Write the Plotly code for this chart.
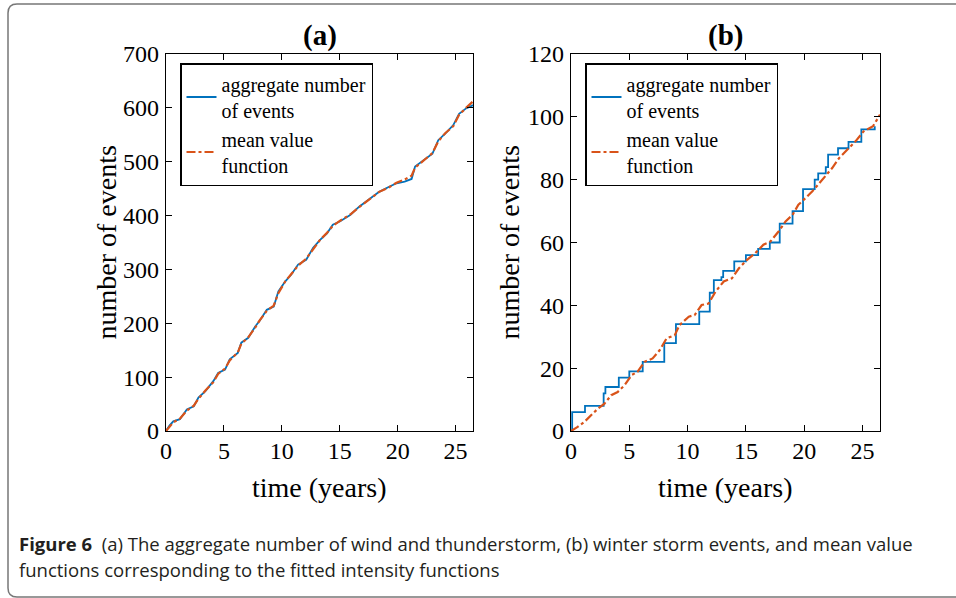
import plotly.graph_objects as go

# ---------------- data ----------------
# panel (a): wind and thunderstorm
time_a = [0, 0.3, 0.63, 1.2, 1.8, 2.4, 2.8, 3.4, 4.1, 4.5, 5.1, 5.5, 6.2, 6.5, 7.1, 7.7, 8.1, 8.7,
          9.3, 9.7, 10.3, 10.8, 11.4, 12.1, 12.7, 13.3, 13.9, 14.4, 15.0, 15.9, 16.7, 17.6, 18.4,
          19.3, 19.9, 20.6, 21.2, 21.5, 22.1, 23.0, 23.5, 24.1, 24.8, 25.3, 25.9, 26.5]
aggregate_a = [0, 10, 18, 22, 40, 46, 62, 74, 93, 108, 114, 133, 145, 164, 173, 194, 205, 225,
               231, 259, 278, 290, 309, 318, 340, 355, 367, 383, 389, 401, 417, 432, 444,
               454, 460, 463, 468, 491, 500, 515, 540, 552, 568, 589, 599, 605]
mean_a = [0, 8, 16, 23, 38, 47, 60, 75, 91, 106, 116, 131, 146, 162, 174, 192, 206, 223,
          233, 256, 278, 291, 307, 320, 338, 355, 368, 381, 390, 402, 416, 431, 444,
          453, 461, 467, 474, 489, 500, 516, 538, 553, 566, 587, 600, 612]

# panel (b): winter storm
step_time_b = [0, 0.1, 1.2, 2.8, 2.95, 4.1, 5.0, 6.15, 8.0, 9.0, 11.0, 11.9, 12.25, 12.9, 13.05,
               14.0, 15.0, 16.05, 17.05, 17.9, 19.0, 19.9, 20.9, 21.2, 21.85, 22.05, 22.9,
               23.8, 24.9, 26.05]
aggregate_b = [0, 6, 8, 12, 14, 17, 19, 22, 28, 34, 38, 44, 48, 49, 51,
               54, 56, 58, 60, 66, 70, 77, 80, 82, 84, 88, 90,
               92, 96, 97]
time_b = [0, 0.57, 1.15, 1.7, 2.3, 2.87, 3.45, 4.0, 4.6, 5.2, 5.7, 6.3, 7.0, 7.6, 8.2, 8.9, 9.3,
          10.1, 10.6, 11.2, 11.8, 12.4, 13.1, 13.8, 14.4, 15.1, 15.8, 16.5, 17.1, 17.8, 18.4,
          19.0, 19.5, 20.1, 20.7, 21.3, 21.8, 22.4, 23.0, 23.7, 24.4, 25.1, 25.9, 26.5]
mean_b = [0, 1.3, 2.9, 5.0, 7.1, 8.7, 11.4, 12.4, 14.6, 17.8, 18.8, 22.0, 23.1, 25.7, 29.5, 30.5,
          33.7, 36.4, 36.9, 40.1, 40.6, 44.4, 47.6, 48.6, 51.8, 54.5, 56.6, 59.3, 60.3, 63.5,
          66.7, 68.8, 72.0, 74.1, 76.3, 78.9, 81.1, 83.7, 86.9, 89.6, 92.2, 95.4, 97.0, 100.7]

x_ticks = [0, 5, 10, 15, 20, 25]
y_ticks_a = [0, 100, 200, 300, 400, 500, 600, 700]
y_ticks_b = [0, 20, 40, 60, 80, 100, 120]

name_agg = "aggregate number<br>of events"
name_mean = "mean value<br>function"
x_title = "time (years)"
y_title = "number of events"
caption_1 = "<b>Figure 6</b>  (a) The aggregate number of wind and thunderstorm, (b) winter storm events, and mean value"
caption_2 = "functions corresponding to the fitted intensity functions"

# ---------------- layout helpers ----------------
W, H = 956, 598
def px(x):
    return x / W
def py(y):
    return 1 - y / H

BLUE = "#0072BD"
RED = "#D95319"
SERIF = "Liberation Serif, Times New Roman, serif"
SANS = "Open Sans, sans-serif"

fig = go.Figure()
fig.add_trace(go.Scatter(x=time_a, y=aggregate_a, mode="lines", name=name_agg,
                         line=dict(color=BLUE, width=1.8), xaxis="x", yaxis="y", legend="legend"))
fig.add_trace(go.Scatter(x=time_a, y=mean_a, mode="lines", name=name_mean,
                         line=dict(color=RED, width=2.2, dash="dashdot"), xaxis="x", yaxis="y",
                         legend="legend"))
fig.add_trace(go.Scatter(x=step_time_b, y=aggregate_b, mode="lines", name=name_agg,
                         line=dict(color=BLUE, width=1.8, shape="hv"), xaxis="x2", yaxis="y2",
                         legend="legend2"))
fig.add_trace(go.Scatter(x=time_b, y=mean_b, mode="lines", name=name_mean,
                         line=dict(color=RED, width=2.2, dash="dashdot"), xaxis="x2", yaxis="y2",
                         legend="legend2"))

axis_common = dict(showgrid=False, zeroline=False, showline=True, linecolor="black", linewidth=1.2,
                   mirror="allticks", ticks="inside", ticklen=6, tickwidth=1.2, tickcolor="black",
                   tickfont=dict(family=SERIF, size=24, color="black"), automargin=False)

dom_a = [px(166), px(473)]
dom_b = [px(571), px(880)]
dom_y = [py(431), py(54)]

legend_common = dict(xanchor="left", yanchor="top", bgcolor="white", bordercolor="black",
                     borderwidth=1.5, font=dict(family=SERIF, size=20, color="black"),
                     tracegroupgap=0, itemwidth=30, entrywidth=163, entrywidthmode="pixels")

fig.update_layout(
    template="none",
    width=W, height=H,
    margin=dict(l=0, r=0, t=0, b=0, autoexpand=False),
    paper_bgcolor="white", plot_bgcolor="white",
    xaxis=dict(domain=dom_a, range=[0, 26.5], tickvals=x_ticks, anchor="y", ticklabelstandoff=-2,
               **axis_common),
    yaxis=dict(domain=dom_y, range=[0, 700], tickvals=y_ticks_a, anchor="x", ticklabelstandoff=1,
               **axis_common),
    xaxis2=dict(domain=dom_b, range=[0, 26.5], tickvals=x_ticks, anchor="y2", ticklabelstandoff=-2,
                **axis_common),
    yaxis2=dict(domain=dom_y, range=[0, 120], tickvals=y_ticks_b, anchor="x2", ticklabelstandoff=1,
                **axis_common),
    legend=dict(x=px(180), y=py(63), **legend_common),
    legend2=dict(x=px(585), y=py(63), **legend_common),
    showlegend=True,
)

title_font = dict(family=SERIF, size=28, color="black")
annotations = [
    dict(text="<b>(a)</b>", x=(dom_a[0] + dom_a[1]) / 2, y=py(36), xref="paper", yref="paper",
         showarrow=False, xanchor="center", yanchor="middle", font=dict(family=SERIF, size=29, color="black")),
    dict(text="<b>(b)</b>", x=(dom_b[0] + dom_b[1]) / 2, y=py(36), xref="paper", yref="paper",
         showarrow=False, xanchor="center", yanchor="middle", font=dict(family=SERIF, size=29, color="black")),
    dict(text=x_title, x=(dom_a[0] + dom_a[1]) / 2, y=py(487), xref="paper", yref="paper",
         showarrow=False, xanchor="center", yanchor="middle", font=title_font),
    dict(text=x_title, x=(dom_b[0] + dom_b[1]) / 2, y=py(487), xref="paper", yref="paper",
         showarrow=False, xanchor="center", yanchor="middle", font=title_font),
    dict(text=y_title, x=px(106), y=(dom_y[0] + dom_y[1]) / 2, xref="paper", yref="paper",
         showarrow=False, xanchor="center", yanchor="middle", textangle=-90, font=title_font),
    dict(text=y_title, x=px(509), y=(dom_y[0] + dom_y[1]) / 2, xref="paper", yref="paper",
         showarrow=False, xanchor="center", yanchor="middle", textangle=-90, font=title_font),
    dict(text=caption_1, x=px(17), y=py(543), xref="paper", yref="paper", showarrow=False,
         xanchor="left", yanchor="middle", font=dict(family=SANS, size=18.5, color="#231f20")),
    dict(text=caption_2, x=px(17), y=py(569), xref="paper", yref="paper", showarrow=False,
         xanchor="left", yanchor="middle", font=dict(family=SANS, size=18.5, color="#231f20")),
]
fig.update_layout(annotations=annotations)

# rounded frame around figure (only left side visible)
def P(x, y):
    return f"{px(x):.5f},{py(y):.5f}"
frame_path = (f"M {P(956, 4)} L {P(17, 4)} Q {P(8, 4)} {P(8, 13)} L {P(8, 588)} "
              f"Q {P(8, 597)} {P(17, 597)} L {P(956, 597)}")
fig.add_shape(type="path", path=frame_path, xref="paper", yref="paper",
              line=dict(color="#777777", width=1.5), layer="below")

fig.write_html("out.html")
